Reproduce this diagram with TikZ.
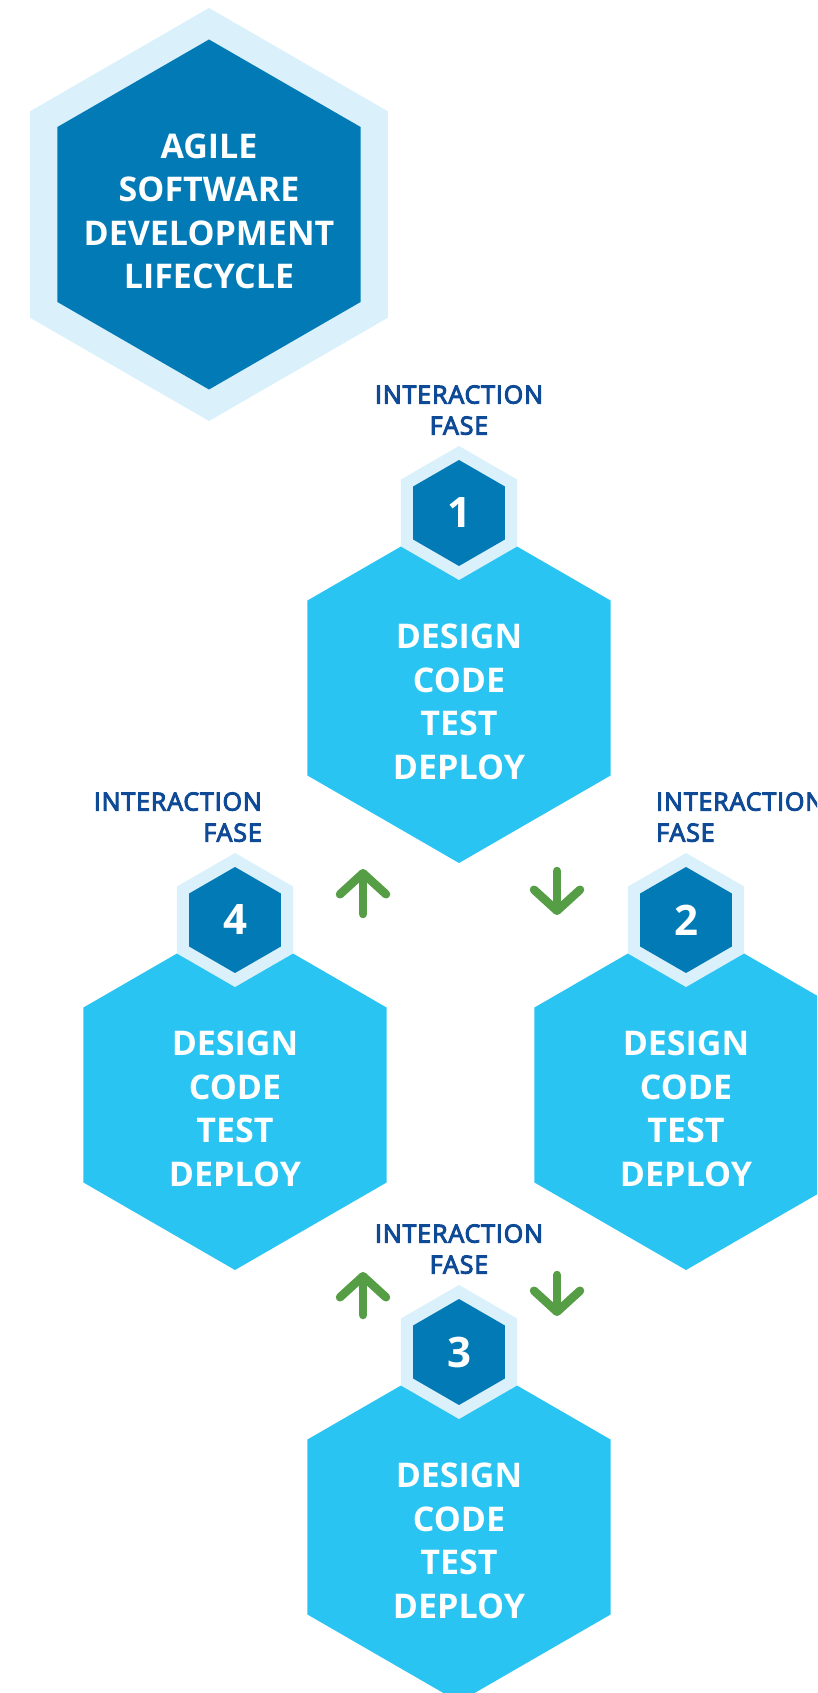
\documentclass[tikz,border=0pt]{standalone}
\usepackage{fontspec}
\setmainfont{Open Sans}
\newfontfamily\fasefont{Open Sans}[LetterSpace=3.5,FakeBold=4]
\usetikzlibrary{positioning,shapes.geometric,arrows.meta}
\definecolor{palehex}{RGB}{218,240,250}
\definecolor{darkhex}{RGB}{1,122,182}
\definecolor{phasecyan}{RGB}{41,196,242}
\definecolor{fasenavy}{RGB}{14,74,150}
\definecolor{flowgreen}{RGB}{86,158,70}
\tikzset{hexa/.style={regular polygon,regular polygon sides=6,shape border rotate=30,
	 inner sep=0pt,outer sep=0pt,draw=none},
	 titleouter/.style={hexa,fill=palehex,minimum size=413pt},
	 titleinner/.style={hexa,fill=darkhex,minimum size=350pt},
	 phasehex/.style={hexa,fill=phasecyan,minimum size=350pt},
	 numouter/.style={hexa,fill=palehex,minimum size=134pt},
	 numinner/.style={hexa,fill=darkhex,minimum size=106pt,text=white,
	 font=\fontsize{42}{42}\selectfont\bfseries},
	 bigtext/.style={align=center,text=white,inner sep=0pt,
	 font=\fontsize{34}{43.5}\selectfont\bfseries},
	 fasetext/.style={align=center,text=fasenavy,inner sep=0pt,
	 font=\fontsize{25}{31}\fasefont},
	 flow/.style={draw=flowgreen,line width=8.5pt,line cap=round,
	 -{Straight Barb[length=21pt,width=46pt,round]}}
	 }
\begin{document}
\begin{tikzpicture}[x=1pt,y=-1pt]
	\useasboundingbox (0,0) rectangle (817,1693);
	\clip (0,0) rectangle (817,1693);
	% title
	\node[titleouter] (tout) at (209,214.5) {};
	\node[titleinner] (tin) at (tout.center) {};
	\node[bigtext] (title) at ([yshift=3pt]tin.center) {AGILE\\SOFTWARE\\DEVELOPMENT\\LIFECYCLE};
	% phases
	\node[phasehex] (p1) at (459,688) {};
	\node[phasehex] (p2) at (686,1095) {};
	\node[phasehex] (p3) at (459,1527) {};
	\node[phasehex] (p4) at (235,1095) {};
	\foreach \i in {1,...,4} {
		\node[numouter] (o\i) at (p\i.90) {};
		\node[numinner] (n\i) at (o\i.center) {\i};
		\node[bigtext] (s\i) at ([yshift=-14pt]p\i.center) {DESIGN\\CODE\\TEST\\DEPLOY};
	}
	\node[fasetext,anchor=south] (f1) at ([yshift=11pt]o1.90) {INTERACTION\\FASE};
	\node[fasetext,anchor=south west,align=left] (f2) at ([xshift=-30pt,yshift=11pt]o2.90) {INTERACTION\\FASE};
	\node[fasetext,anchor=south] (f3) at ([yshift=11pt]o3.90) {INTERACTION\\FASE};
	\node[fasetext,anchor=south east,align=right] (f4) at ([xshift=27pt,yshift=11pt]o4.90) {INTERACTION\\FASE};
	% arrows
	\coordinate (d12a) at (557,871);
	\coordinate (d12b) at (557,915);
	\coordinate (u41a) at (363,914);
	\coordinate (u41b) at (363,869);
	\coordinate (u34a) at (363,1315);
	\coordinate (u34b) at (363,1272);
	\coordinate (d23a) at (557,1275);
	\coordinate (d23b) at (557,1316);
	\draw[flow] (d12a) -- (d12b);
	\draw[flow] (u41a) -- (u41b);
	\draw[flow] (u34a) -- (u34b);
	\draw[flow] (d23a) -- (d23b);
\end{tikzpicture}
\end{document}
